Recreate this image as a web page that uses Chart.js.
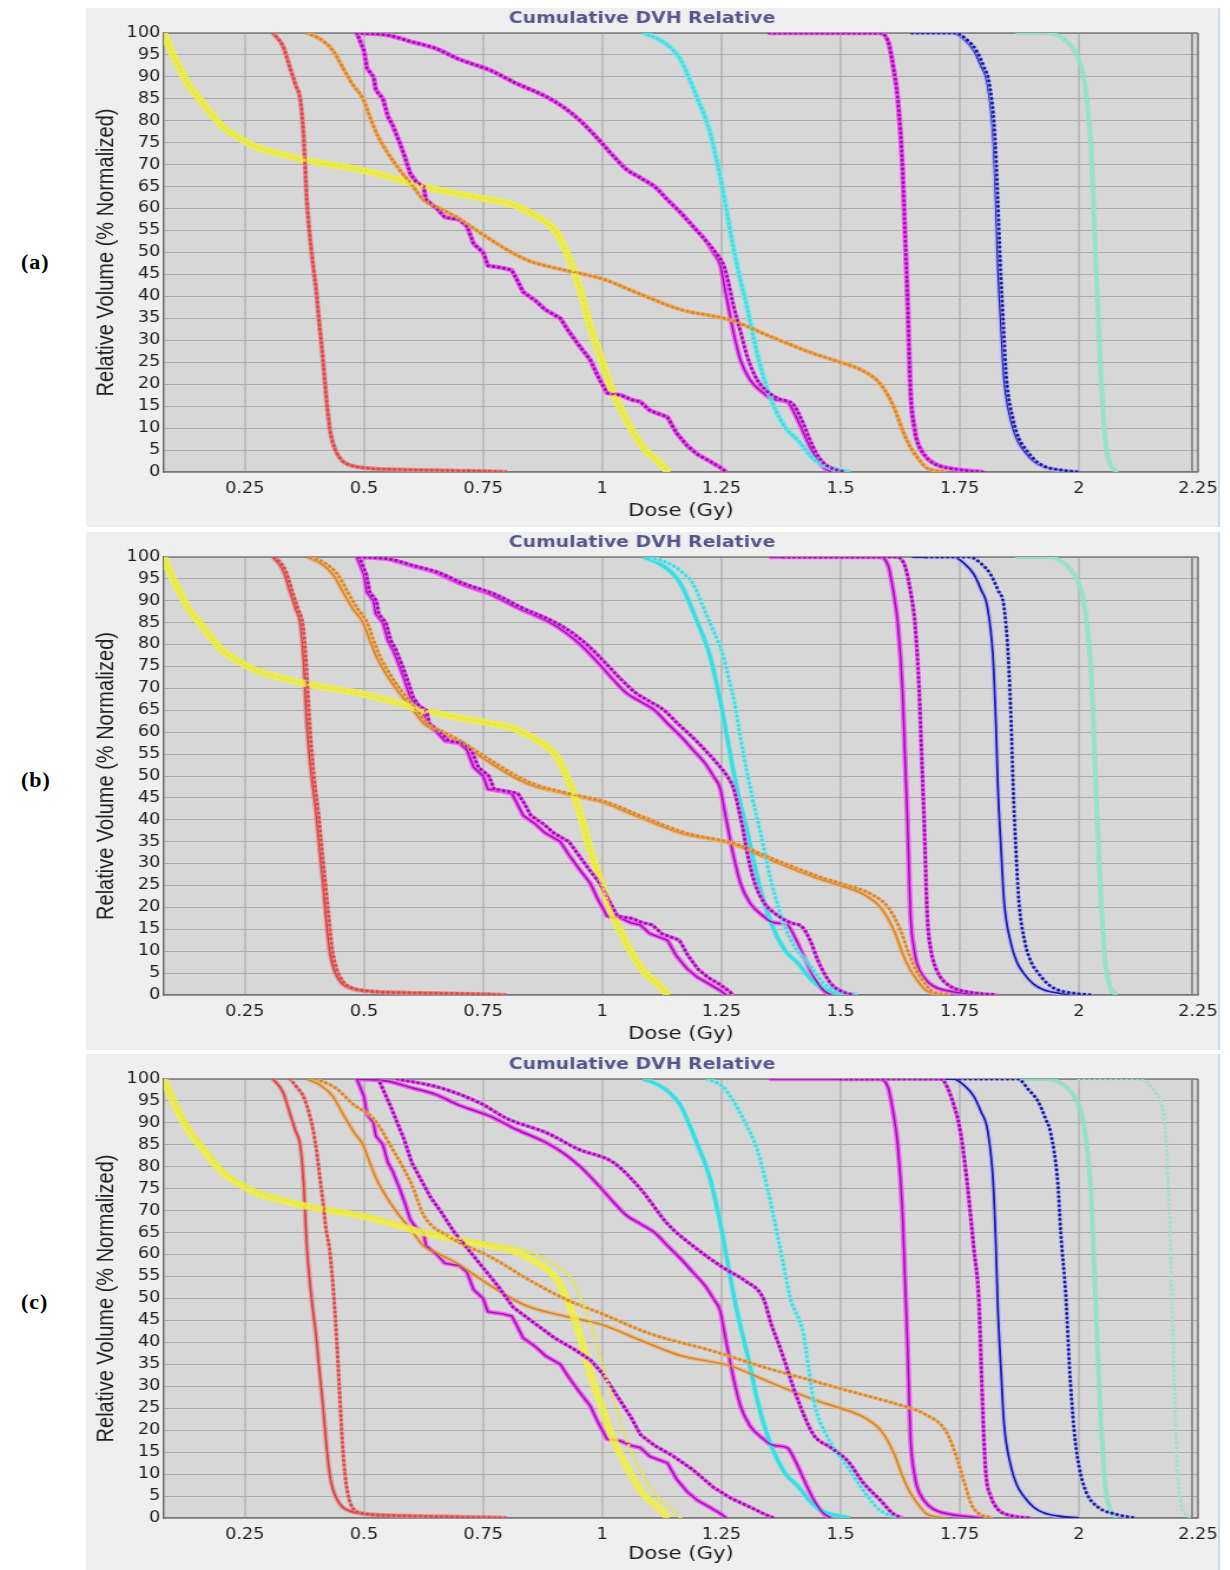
<!DOCTYPE html>
<html><head><meta charset="utf-8">
<script src="https://cdn.jsdelivr.net/npm/chart.js@4.4.1/dist/chart.umd.min.js"></script>
<style>
html,body{margin:0;padding:0;background:#fff;}
body{width:1230px;height:1570px;position:relative;overflow:hidden;}
.panel{position:absolute;left:86px;width:1132px;background:#efefef;border-right:2px solid #c8dbee;overflow:hidden;}
.panel canvas{position:absolute;left:0;top:0;transform:scaleX(1.17917);transform-origin:0 0;}
.lab{position:absolute;left:21px;font:bold 22px "Liberation Serif","Times New Roman",serif;color:#000;letter-spacing:1px;}
</style></head><body>
<div class="lab" style="top:249px">(a)</div>
<div class="lab" style="top:767px">(b)</div>
<div class="lab" style="top:1289px">(c)</div>
<div class="panel" style="top:8px;height:519px"><canvas id="ca" width="960" height="519"></canvas></div>
<div class="panel" style="top:532px;height:518px"><canvas id="cb" width="960" height="518"></canvas></div>
<div class="panel" style="top:1054px;height:516px"><canvas id="cc" width="960" height="516"></canvas></div>
<script>
// ---------- text ----------
const chartTitle = 'Cumulative DVH Relative';
const xTitle = 'Dose (Gy)';
const yTitle = 'Relative Volume (% Normalized)';
const panelLabels = ['(a)', '(b)', '(c)'];
const doseTicks = [0.25, 0.5, 0.75, 1, 1.25, 1.5, 1.75, 2, 2.25];
const doseTickLabels = ['0.25', '0.5', '0.75', '1', '1.25', '1.5', '1.75', '2', '2.25'];
const volumeTicks = [0, 5, 10, 15, 20, 25, 30, 35, 40, 45, 50, 55, 60, 65, 70, 75, 80, 85, 90, 95, 100];
const doseMin = 0.08, doseMax = 2.25;

// ---------- solid curves (same in all panels): [dose Gy, volume %] ----------
const yellowRef = [[0.08,100],[0.095,96],[0.113,92],[0.133,88],[0.155,85],[0.18,81.5],[0.204,78.6],[0.24,76],[0.275,74],[0.33,72.3],[0.38,71],[0.43,70],[0.485,69],[0.55,67.3],[0.625,65],[0.7,63.3],[0.765,62],[0.81,61],[0.849,59],[0.88,57],[0.905,54.4],[0.925,50],[0.94,46],[0.96,39],[0.975,33],[1.0,25],[1.023,18],[1.045,13],[1.065,9],[1.09,5],[1.115,2.7],[1.13,1],[1.14,0]];
const redRef = [[0.309,100],[0.33,97],[0.345,92],[0.357,88],[0.366,85],[0.373,77],[0.38,62],[0.39,50],[0.4,41],[0.407,33],[0.414,25.5],[0.42,18],[0.428,10],[0.435,6.5],[0.443,4.3],[0.455,2.5],[0.47,1.6],[0.506,0.9],[0.6,0.5],[0.75,0.2],[0.8,0]];
const orangeRef = [[0.38,100],[0.41,98.5],[0.435,96],[0.456,92],[0.478,88],[0.498,85],[0.512,81],[0.527,77],[0.548,73],[0.57,69.5],[0.6,65.5],[0.625,62],[0.66,60],[0.695,58],[0.73,55.5],[0.765,53],[0.81,50],[0.849,48],[0.92,46],[1.0,44],[1.08,40.5],[1.164,37],[1.27,34.6],[1.35,31],[1.443,27],[1.5,25],[1.548,23],[1.584,20],[1.611,15],[1.632,9],[1.645,6],[1.66,3.5],[1.68,1],[1.72,0]];
const jaggedRef = [[0.485,100],[0.5,96],[0.506,92],[0.52,90],[0.525,87],[0.54,85],[0.55,81],[0.56,79],[0.575,75],[0.585,72],[0.597,68],[0.61,66],[0.625,65],[0.63,62],[0.653,60],[0.67,58],[0.7,57.5],[0.716,56],[0.73,52],[0.75,50],[0.76,47],[0.79,46.5],[0.81,46],[0.82,44],[0.834,41],[0.86,39],[0.88,37],[0.912,35],[0.93,32],[0.95,29],[0.975,25.5],[0.99,22],[1.01,18],[1.04,17.5],[1.06,16.5],[1.08,16],[1.1,14],[1.137,12.5],[1.155,9],[1.178,6],[1.2,4],[1.225,2.5],[1.248,1],[1.26,0]];
const smoothRef = [[0.485,100],[0.55,99.5],[0.6,98],[0.65,96.5],[0.7,94],[0.765,91.5],[0.82,88.5],[0.884,85.4],[0.92,83],[0.954,80],[0.99,76],[1.023,72],[1.05,69],[1.08,67],[1.11,65],[1.137,62],[1.165,59],[1.19,56],[1.215,53],[1.233,50],[1.248,47],[1.255,43],[1.263,38.5],[1.275,32],[1.29,25.5],[1.31,21],[1.338,18],[1.36,16.5],[1.388,16],[1.405,13],[1.422,9],[1.435,6],[1.45,3],[1.465,1],[1.48,0]];
const cyanRef = [[1.086,100],[1.12,98.5],[1.145,96.5],[1.164,94],[1.185,89],[1.2,85],[1.215,81],[1.227,77],[1.24,71],[1.248,67],[1.26,60],[1.27,54],[1.285,46],[1.305,37],[1.325,27],[1.34,21],[1.36,15],[1.385,10],[1.41,7.3],[1.443,3],[1.47,1.2],[1.5,0.4],[1.52,0]];
const pinkRef = [[1.35,100],[1.58,100],[1.6,98],[1.611,92],[1.62,85],[1.63,69.5],[1.635,55],[1.64,41],[1.647,18],[1.655,10],[1.66,7.3],[1.675,4],[1.695,2],[1.75,0.5],[1.8,0]];
const blueRef = [[1.65,100],[1.737,100],[1.76,98.5],[1.78,96],[1.795,92.5],[1.808,88.6],[1.82,77],[1.826,62],[1.83,48],[1.837,33],[1.843,21.6],[1.857,12],[1.87,7.5],[1.884,5],[1.905,2.5],[1.926,1.2],[1.96,0.4],[2.0,0]];
const tealRef = [[1.87,100],[1.935,100],[1.97,98.5],[1.99,96],[2.01,90],[2.025,75],[2.035,50],[2.045,25],[2.055,8],[2.065,2],[2.08,0]];

// ---------- dotted curves ----------
// (a): dotted plan overlaps the solid plan almost everywhere
const smoothDotA = [[0.485,100],[0.55,99.5],[0.6,98],[0.65,96.5],[0.7,94],[0.765,91.5],[0.82,88.5],[0.884,85.4],[0.92,83],[0.954,80],[0.99,76],[1.023,72],[1.05,69],[1.08,67],[1.11,65],[1.137,62],[1.165,59],[1.19,56],[1.215,53],[1.238,50],[1.255,47],[1.265,43],[1.275,38],[1.29,32],[1.305,26],[1.325,21],[1.35,18],[1.375,16.5],[1.4,15.5],[1.418,12],[1.433,8],[1.448,4.5],[1.465,2],[1.49,0.5],[1.51,0]];
const blueDotA = [[1.65,100],[1.74,100],[1.765,98.5],[1.785,96],[1.8,92.5],[1.812,88.6],[1.823,78],[1.83,62],[1.835,48],[1.842,33],[1.848,21.6],[1.862,12],[1.875,7.5],[1.89,5],[1.91,2.5],[1.93,1.2],[1.965,0.4],[2.0,0]];
// (b)
const redDotB = [[0.315,100],[0.335,97],[0.35,92],[0.362,88],[0.371,85],[0.378,77],[0.386,62],[0.395,50],[0.405,41],[0.412,33],[0.419,25.5],[0.426,18],[0.434,10],[0.441,6.5],[0.449,4.3],[0.461,2.5],[0.476,1.6],[0.51,0.9],[0.6,0.5],[0.75,0.2],[0.8,0]];
const orangeDotB = [[0.39,100],[0.42,98.5],[0.445,96],[0.466,92],[0.488,88],[0.507,85],[0.52,81],[0.535,77],[0.556,73],[0.578,69.5],[0.608,65.5],[0.633,62],[0.668,60],[0.703,58],[0.738,55.5],[0.775,53],[0.82,50],[0.86,48],[0.93,46],[1.01,44],[1.09,40.5],[1.175,37],[1.28,34.5],[1.36,31],[1.455,27],[1.515,25],[1.565,23],[1.6,20],[1.625,15],[1.645,9],[1.657,6],[1.672,3.5],[1.69,1],[1.73,0]];
const jaggedDotB = [[0.49,100],[0.505,96],[0.512,92],[0.526,90],[0.531,87],[0.546,85],[0.556,81],[0.566,79],[0.581,75],[0.591,72],[0.603,68],[0.616,66],[0.631,65],[0.637,62],[0.66,60],[0.678,58],[0.708,57.5],[0.725,56],[0.74,52],[0.762,50],[0.773,47],[0.803,46.5],[0.823,46],[0.835,44],[0.85,41],[0.877,39],[0.898,37],[0.93,35],[0.95,32],[0.97,29],[0.995,25.5],[1.012,22],[1.032,18],[1.062,17.5],[1.085,16.5],[1.105,16],[1.125,14],[1.162,12.5],[1.18,9],[1.2,6],[1.222,4],[1.245,2.5],[1.265,1],[1.275,0]];
const smoothDotB = [[0.49,100],[0.555,99.5],[0.605,98],[0.655,96.5],[0.708,94],[0.775,91.5],[0.83,88.5],[0.895,85.4],[0.933,83],[0.968,80],[1.005,76],[1.04,72],[1.07,69],[1.1,67],[1.13,65],[1.158,62],[1.188,59],[1.215,56],[1.24,53],[1.262,50],[1.276,47],[1.285,43],[1.294,38.5],[1.305,32],[1.32,25.5],[1.34,21],[1.37,18],[1.395,16.5],[1.42,15.5],[1.438,12],[1.452,8],[1.468,4.5],[1.485,2],[1.51,0.5],[1.53,0]];
const cyanDotB = [[1.1,100],[1.14,98.5],[1.168,96.5],[1.19,94],[1.21,89],[1.226,85],[1.242,81],[1.255,77],[1.268,71],[1.277,67],[1.288,60],[1.298,54],[1.313,46],[1.332,37],[1.352,27],[1.367,21],[1.385,15],[1.41,10],[1.432,7.3],[1.462,3],[1.488,1.2],[1.515,0.4],[1.535,0]];
const pinkDotB = [[1.38,100],[1.615,100],[1.635,98],[1.647,92],[1.656,85],[1.665,69.5],[1.67,55],[1.675,41],[1.682,18],[1.69,10],[1.696,7.3],[1.71,4],[1.73,2],[1.78,0.5],[1.83,0]];
const blueDotB = [[1.68,100],[1.77,100],[1.795,98.5],[1.815,96],[1.83,92.5],[1.843,88.6],[1.852,77],[1.858,62],[1.862,48],[1.868,33],[1.874,21.6],[1.887,12],[1.9,7.5],[1.915,5],[1.935,2.5],[1.955,1.2],[1.99,0.4],[2.03,0]];
// (c)
const yellowDotC = [[0.08,100],[0.097,96],[0.116,92],[0.137,88],[0.16,85],[0.186,81.5],[0.21,78.6],[0.248,76],[0.285,74],[0.34,72.3],[0.39,71],[0.44,70],[0.5,69],[0.565,67.3],[0.64,65],[0.72,63.3],[0.79,62],[0.84,61],[0.88,59],[0.91,57],[0.935,54.4],[0.955,50],[0.97,46],[0.99,39],[1.005,33],[1.03,25],[1.05,18],[1.07,13],[1.09,9],[1.115,5],[1.14,2.7],[1.155,1],[1.165,0]];
const redDotC = [[0.345,100],[0.36,98],[0.373,96],[0.39,90],[0.4,84],[0.408,77],[0.414,72],[0.42,66],[0.428,61],[0.437,50],[0.443,40],[0.448,30],[0.453,20],[0.46,10],[0.467,5],[0.475,2.5],[0.49,1.2],[0.55,0.6],[0.7,0.2],[0.8,0]];
const orangeDotC = [[0.4,100],[0.44,98],[0.48,94],[0.52,91],[0.56,84],[0.6,76],[0.625,69],[0.68,64],[0.765,59.5],[0.85,54],[0.92,50],[1.0,46.5],[1.1,42],[1.233,38],[1.35,34],[1.45,31],[1.515,29],[1.6,26.5],[1.68,23.5],[1.72,20],[1.74,15],[1.76,8],[1.775,3],[1.79,1],[1.82,0]];
const jaggedDotC = [[0.53,100],[0.555,94],[0.57,90],[0.585,86],[0.6,81],[0.62,77],[0.64,73],[0.66,70],[0.69,65],[0.72,61],[0.75,57],[0.78,53],[0.813,48],[0.85,45],[0.9,41],[0.94,38.5],[0.975,36],[1.0,33],[1.03,28],[1.06,23],[1.08,19],[1.11,16.5],[1.15,14],[1.19,11],[1.233,7],[1.27,4.5],[1.31,2.5],[1.338,1],[1.36,0]];
const smoothDotC = [[0.57,100],[0.66,98],[0.744,94.5],[0.8,91],[0.884,87.7],[0.95,84],[1.023,81],[1.08,75],[1.137,67],[1.19,62],[1.254,57],[1.3,54],[1.338,50],[1.355,44],[1.374,38.5],[1.41,27],[1.443,19],[1.48,16],[1.515,13],[1.548,8],[1.584,4],[1.61,1],[1.63,0]];
const cyanDotC = [[1.22,100],[1.25,98.5],[1.275,95],[1.3,90],[1.325,84],[1.34,78],[1.353,72],[1.374,61],[1.395,50],[1.422,42],[1.443,27],[1.47,19],[1.515,11.6],[1.55,6],[1.58,2],[1.62,0]];
const pinkDotC = [[1.5,100],[1.71,100],[1.735,95],[1.752,87.7],[1.766,76],[1.78,61],[1.79,50],[1.795,35],[1.8,20],[1.805,10],[1.815,5],[1.83,2],[1.86,0.5],[1.9,0]];
const blueDotC = [[1.75,100],[1.872,100],[1.895,97.5],[1.914,95],[1.93,91],[1.941,87.7],[1.956,76],[1.962,65],[1.973,50],[1.98,35],[1.99,20],[2.0,12],[2.015,6],[2.04,2.5],[2.08,0.8],[2.12,0]];
const tealDotC = [[2.0,100],[2.12,100],[2.16,97],[2.18,90],[2.19,70],[2.198,40],[2.205,15],[2.215,3],[2.235,0]];

// ---------- per-panel sets ----------
const kinds = ['yellow','red','orange','magenta','magenta','cyan','magenta','blue','teal'];
const solidSet = [yellowRef, redRef, orangeRef, jaggedRef, smoothRef, cyanRef, pinkRef, blueRef, tealRef];
const dottedA = [yellowRef, redRef, orangeRef, jaggedRef, smoothDotA, cyanRef, pinkRef, blueDotA, tealRef];
const dottedB = [yellowRef, redDotB, orangeDotB, jaggedDotB, smoothDotB, cyanDotB, pinkDotB, blueDotB, tealRef];
const dottedC = [yellowDotC, redDotC, orangeDotC, jaggedDotC, smoothDotC, cyanDotC, pinkDotC, blueDotC, tealDotC];

const STY = {
  yellow:{c:'rgba(238,238,70,0.85)', w:7, h:null, dc:'rgba(232,232,60,0.9)', dw:3},
  red:{c:'#c84444', w:1.5, h:'rgba(240,125,125,0.75)', hw:4.2, dc:'#d05050', dw:3},
  orange:{c:'#c98637', w:1.5, h:'rgba(246,175,95,0.75)', hw:4.2, dc:'#d18a3a', dw:3},
  magenta:{c:'#8a1ca4', w:1.5, h:'rgba(255,75,255,0.9)', hw:4.5, dc:'#86209c', dw:3},
  cyan:{c:'#3fdbe0', w:3.5, h:'rgba(130,238,242,0.6)', hw:5.5, dc:'#55d6dc', dw:3.2},
  blue:{c:'#1b1ba6', w:1.8, h:'rgba(175,175,255,0.75)', hw:4.5, dc:'#202090', dw:3},
  teal:{c:'rgba(140,226,196,0.85)', w:4, h:null, dc:'rgba(150,228,200,0.85)', dw:3.2}
};

function pts(a){ return a.map(p => ({x:p[0], y:p[1]})); }

function buildDatasets(dotted){
  const out = [];
  solidSet.forEach((arr, i) => {
    const s = STY[kinds[i]];
    const jag = (i === 3);
    const base = {pointRadius:0, fill:false, borderJoinStyle:'round', tension:0,
                  cubicInterpolationMode: jag ? 'default' : 'monotone'};
    if (s.h) out.push(Object.assign({}, base, {data:pts(arr), borderColor:s.h, borderWidth:s.hw, order:300}));
    out.push(Object.assign({}, base, {data:pts(arr), borderColor:s.c, borderWidth:s.w, order:200}));
    const d = dotted[i];
    if (s.h) out.push(Object.assign({}, base, {data:pts(d), borderColor:s.h, borderWidth:s.hw - 0.8, order:150}));
    out.push(Object.assign({}, base, {data:pts(d), borderColor:s.dc, borderWidth:s.dw,
      borderDash:[0.1, 4.4], borderCapStyle:'round', order:100}));
  });
  return out;
}

const plotFrame = {
  id:'plotFrame',
  beforeDraw(chart){
    const {ctx, chartArea:a} = chart;
    ctx.save();
    ctx.fillStyle = '#d7d7d7';
    ctx.fillRect(a.left, a.top, a.right - a.left, a.bottom - a.top);
    ctx.restore();
  },
  beforeDatasetsDraw(chart){
    const {ctx, chartArea:a} = chart;
    ctx.save();
    ctx.strokeStyle = '#7c7c7c';
    ctx.lineWidth = 1.5;
    ctx.beginPath();
    ctx.moveTo(a.left, a.top); ctx.lineTo(a.right, a.top);
    ctx.moveTo(a.right, a.top); ctx.lineTo(a.right, a.bottom);
    ctx.moveTo(a.right - 5, a.top); ctx.lineTo(a.right - 5, a.bottom);
    ctx.stroke();
    ctx.restore();
  }
};

function makeChart(id, dotted, xHeight){
  new Chart(document.getElementById(id), {
    type:'line',
    data:{datasets: buildDatasets(dotted)},
    plugins:[plotFrame],
    options:{
      responsive:false, animation:false, events:[],
      layout:{padding:{left:0, right:17, top:0, bottom:0}},
      plugins:{
        legend:{display:false}, tooltip:{enabled:false},
        title:{display:true, text:chartTitle, color:'#57578f',
               font:{family:'DejaVu Sans', size:16, weight:'bold', lineHeight:1.2},
               padding:{top:1, bottom:4.8}}
      },
      scales:{
        x:{type:'linear', min:doseMin, max:doseMax,
           afterBuildTicks(scale){ scale.ticks = doseTicks.map(v => ({value:v})); },
           afterFit(scale){ scale.height = xHeight; scale.paddingLeft = 0; scale.paddingRight = 0; },
           ticks:{color:'#1e1e1e', padding:8, maxRotation:0, autoSkip:false,
                  callback(value){ const k = doseTicks.indexOf(value); return k >= 0 ? doseTickLabels[k] : ''; },
                  font:{family:'DejaVu Sans', size:15, lineHeight:1.2}},
           grid:{color:'#bcbcbc', lineWidth:2, drawTicks:false},
           border:{color:'#7a7a7a', width:1.5},
           title:{display:true, text:xTitle, color:'#1e1e1e',
                  font:{family:'DejaVu Sans', size:18, lineHeight:1.2}, padding:{top:0, bottom:5}}},
        y:{type:'linear', min:0, max:100,
           afterBuildTicks(scale){ scale.ticks = volumeTicks.map(v => ({value:v})); },
           afterFit(scale){ scale.width = 66; scale.paddingTop = 0; scale.paddingBottom = 0; },
           ticks:{color:'#1e1e1e', padding:3, autoSkip:false,
                  callback(value){ return String(value); },
                  font:{family:'DejaVu Sans', size:15, lineHeight:1.2}},
           grid:{color:'#ababab', lineWidth:1, drawTicks:false},
           border:{color:'#6e6e6e', width:1.5},
           title:{display:true, text:yTitle, color:'#1e1e1e',
                  font:{family:'Liberation Sans', size:20, lineHeight:1.2}, padding:{top:5, bottom:0}}}
      }
    }
  });
}

makeChart('ca', dottedA, 55);
makeChart('cb', dottedB, 55);
makeChart('cc', dottedC, 52);
</script>
</body></html>
